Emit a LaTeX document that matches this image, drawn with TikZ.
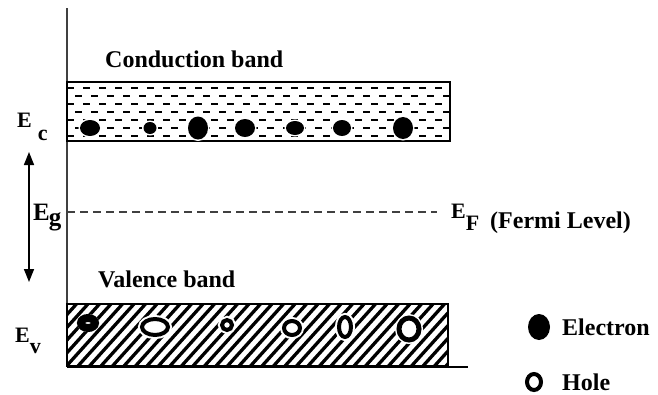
\documentclass[tikz,border=0pt]{standalone}
\usepackage{fontspec}
\setmainfont{Liberation Serif}
\usepackage{tikz}
\usetikzlibrary{arrows.meta,positioning}

% level label: E with a lowered subscript
\newcommand{\lvl}[3]{E\kern#2\raisebox{#3}{#1}}

\begin{document}
\begin{tikzpicture}[
  x=1pt,y=-1pt,
  >={Triangle[length=13pt,width=10pt]},
  % Styles
  bandtext/.style={font=\fontsize{24}{28}\selectfont\bfseries,anchor=base west,inner sep=0pt},
  leveltext/.style={font=\fontsize{22}{24}\selectfont\bfseries,anchor=base west,inner sep=0pt},
  bandbox/.style={draw,line width=1.5pt},
  cdash/.style={line width=1.8pt,dash pattern=on 7pt off 9pt},
  hatch/.style={line width=3.3pt},
  electron/.style={fill=black,preaction={draw=white,line width=3pt}},
  hole/.style={draw=black,fill=white,line width=4pt,preaction={draw=white,line width=8pt}},
  ]
\useasboundingbox (0,0) rectangle (658,394);

%--- Axes -----------------------------------------------------------
\coordinate (axtop) at (67,8);
\coordinate (axcorner) at (67,367);
\coordinate (axend) at (468,367);
\draw[line width=2pt,black!75] (axtop) -- (axcorner);
\draw[line width=2pt] (axcorner) -- (axend);

%--- Conduction band ------------------------------------------------
\begin{scope}
  \clip (67,82) rectangle (450,141);
  \foreach \r [evaluate=\r as \yy using 88+8*\r,
               evaluate=\r as \ph using {mod(\r,2)*8}] in {0,...,6}
    \draw[cdash,dash phase=\ph pt] (67,\yy) -- (452,\yy);
\end{scope}
\draw[bandbox] (67,82) rectangle (450,141);

% electrons
\fill[electron] (90,128) ellipse[x radius=10pt,y radius=8pt];
\fill[electron] (150,128) ellipse[x radius=6.5pt,y radius=6pt];
\fill[electron] (198,128) ellipse[x radius=10pt,y radius=11.5pt];
\fill[electron] (245,128) ellipse[x radius=10pt,y radius=9pt];
\fill[electron] (295,128) ellipse[x radius=9pt,y radius=7pt];
\fill[electron] (342,128) ellipse[x radius=9pt,y radius=8pt];
\fill[electron] (403,128) ellipse[x radius=10pt,y radius=11pt];

\node[bandtext] (cbtext) at (105,67) {Conduction band};

%--- Valence band ---------------------------------------------------
\begin{scope}
  \clip (67,304) rectangle (448,366);
  \foreach \x in {-60,-48.5,...,460}
    \draw[hatch] (\x,366) -- ++(56,-62);
\end{scope}

% holes
\draw[hole,line width=8pt] (88,323) ellipse[x radius=7pt,y radius=5pt];
\draw[hole] (155,327) ellipse[x radius=13pt,y radius=8pt];
\draw[hole] (227,325) ellipse[x radius=5pt,y radius=5pt];
\draw[hole] (292,328) ellipse[x radius=8pt,y radius=7pt];
\draw[hole] (345,327) ellipse[x radius=6pt,y radius=10pt];
\draw[hole,line width=5pt] (409,329) ellipse[x radius=10pt,y radius=11pt];

\draw[bandbox] (67,304) rectangle (448,366);

\node[bandtext] (vbtext) at (98,287) {Valence band};

%--- Fermi level ----------------------------------------------------
\coordinate (fstart) at (67,212);
\coordinate (fend) at (437,212);
\draw[black!75,line width=1.3pt,dash pattern=on 8pt off 5pt] (fstart) -- (fend);
\node[leveltext] (efl) at (451,218) {\lvl{F}{0pt}{-12pt}};
\node[bandtext] (fermi) at (490,228) {(Fermi Level)};

%--- Band gap -------------------------------------------------------
\coordinate (gaptop) at (29,152);
\coordinate (gapbot) at (29,282);
\draw[<->,line width=1.5pt] (gaptop) -- (gapbot);

\node[leveltext] (ecl) at (17,127) {\lvl{c}{6pt}{-13pt}};
\node[leveltext,font=\fontsize{25}{28}\selectfont\bfseries] (egl) at (33,220) {\lvl{g}{-1pt}{-5pt}};
\node[leveltext] (evl) at (15,342) {\lvl{v}{0pt}{-11pt}};

%--- Legend ---------------------------------------------------------
\fill[black] (539,327) ellipse[x radius=11pt,y radius=13pt];
\node[bandtext] (eltext) at (562,335) {Electron};
\draw[black,line width=4pt] (534,382) ellipse[x radius=7pt,y radius=8pt];
\node[bandtext] (holetext) at (562,390) {Hole};

\end{tikzpicture}
\end{document}
